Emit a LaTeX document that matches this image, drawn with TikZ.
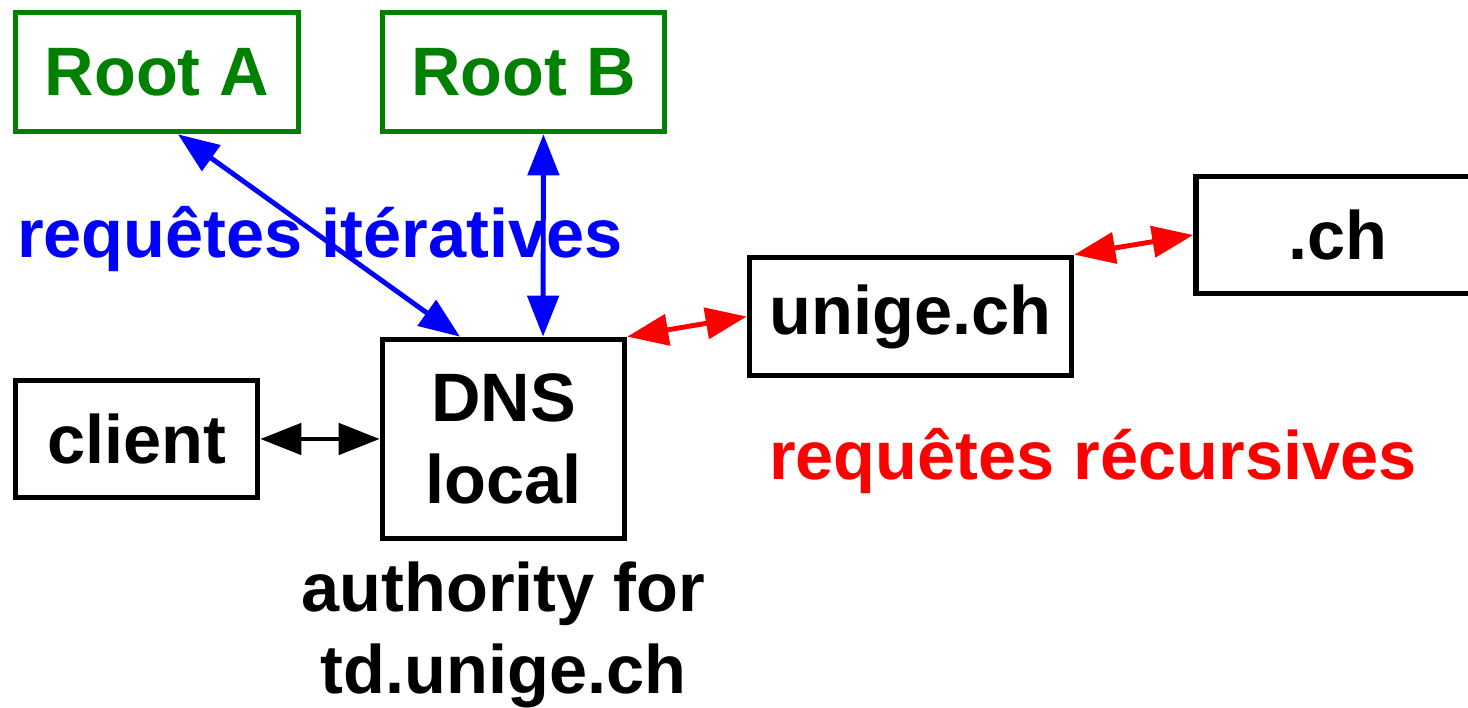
\documentclass[tikz,border=0pt]{standalone}
\usepackage{fontspec}
\setmainfont{Liberation Sans}
\usetikzlibrary{arrows.meta}

\definecolor{rootgreen}{RGB}{0,128,0}

\begin{document}
\begin{tikzpicture}[
  font=\fontsize{19.5}{23.5}\selectfont\bfseries,
  box/.style={draw,line width=1.6pt,inner sep=0pt,align=center},
  conn/.style={line width=1.4pt,{Triangle[length=4.1mm,width=3.1mm]}-{Triangle[length=4.1mm,width=3.1mm]}}
]
\useasboundingbox (0,0) rectangle (14.68,-7.08);
%\draw[help lines] (0,-7) grid (14,0);

\node[box,rootgreen,minimum width=2.83cm,minimum height=1.19cm] (rootA) at (1.57,-0.72) {Root A};
\node[box,rootgreen,minimum width=2.82cm,minimum height=1.19cm] (rootB) at (5.235,-0.72) {Root B};
\node[box,minimum width=2.84cm,minimum height=1.17cm] (ch) at (13.38,-2.35) {.ch};
\node[box,minimum width=3.22cm,minimum height=1.18cm] (unige) at (9.105,-3.165) {unige.ch};
\node[box,minimum width=2.42cm,minimum height=1.99cm] (dns) at (5.035,-4.39) {DNS\\local};
\node[box,minimum width=2.42cm,minimum height=1.17cm] (client) at (1.365,-4.39) {client};

\draw[conn,blue] ([xshift=2.1mm]rootA.south) -- ([xshift=-4.35mm]dns.north);
\draw[conn,blue] ([xshift=2mm]rootB.south) -- ([xshift=3.95mm]dns.north);
\draw[conn,red] (dns.north east) -- (unige.west);
\draw[conn,red] (unige.north east) -- (ch.west);
\draw[conn] (client.east) -- (dns.west);

\node[blue] (iter) at (3.2,-2.39) {requêtes itératives};
\node[red] (recu) at (10.93,-4.61) {requêtes récursives};
\node[align=center] (auth) at (5.035,-6.35) {authority for\\td.unige.ch};
\end{tikzpicture}
\end{document}
